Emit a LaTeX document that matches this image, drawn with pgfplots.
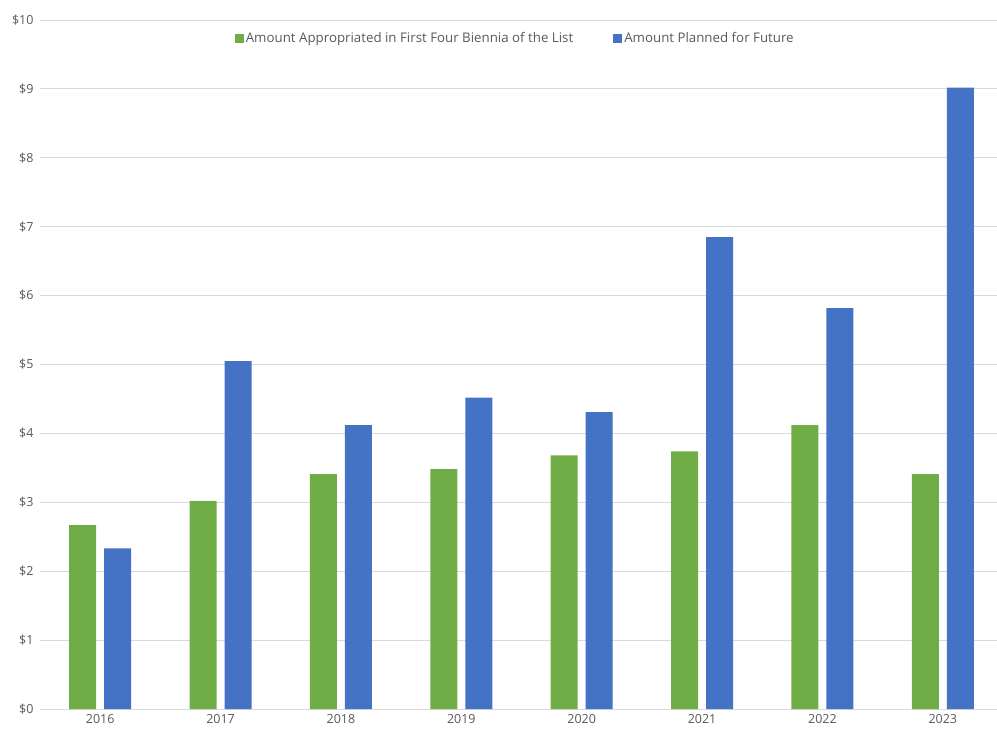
\documentclass[border=0pt]{standalone}
\usepackage{pgfplots}
\pgfplotsset{compat=1.18}
\usepackage{fontspec}
\setmainfont{Open Sans}
\definecolor{cgreen}{HTML}{70AD47}
\definecolor{cblue}{HTML}{4472C4}
\definecolor{cgrid}{HTML}{D9D9D9}
\definecolor{ctext}{HTML}{595959}
\begin{document}
\begin{tikzpicture}
\path[use as bounding box] (-40pt,-23pt) rectangle (957pt,709pt);
\begin{axis}[
  at={(0pt,0pt)}, anchor=south west,
  scale only axis,
  width=963pt, height=689pt,
  ybar=8pt, bar width=27pt,
  xmin=-0.5, xmax=7.5, ymin=0, ymax=10,
  xtick={0,...,7},
  xticklabels={2016,2017,2018,2019,2020,2021,2022,2023},
  ytick={0,...,10},
  yticklabel={\$\pgfmathprintnumber{\tick}},
  /pgf/number format/assume math mode=true,
  ymajorgrids, grid style={cgrid, line width=0.9pt},
  axis line style={draw=none},
  major tick length=0pt,
  tick label style={font=\fontsize{12.5}{14}\selectfont, text=ctext},
  xticklabel style={yshift=-2pt},
  yticklabel style={xshift=-3pt},
  legend style={draw=none, fill=none, at={(0.4935,0.988)}, anchor=north,
    legend columns=2, font=\fontsize{13.3}{15}\selectfont, text=ctext,
    /tikz/every even column/.append style={column sep=38pt}},
  legend image code/.code={\fill[#1] (0pt,-4.5pt) rectangle (9pt,4.5pt);},
  legend cell align=left,
]
\addplot[fill=cgreen, draw=none] coordinates {(0,2.67) (1,3.02) (2,3.41) (3,3.48) (4,3.68) (5,3.74) (6,4.12) (7,3.41)};
\addplot[fill=cblue, draw=none] coordinates {(0,2.33) (1,5.05) (2,4.12) (3,4.52) (4,4.31) (5,6.85) (6,5.82) (7,9.02)};
\legend{Amount Appropriated in First Four Biennia of the List, Amount Planned for Future}
\end{axis}
\end{tikzpicture}
\end{document}
